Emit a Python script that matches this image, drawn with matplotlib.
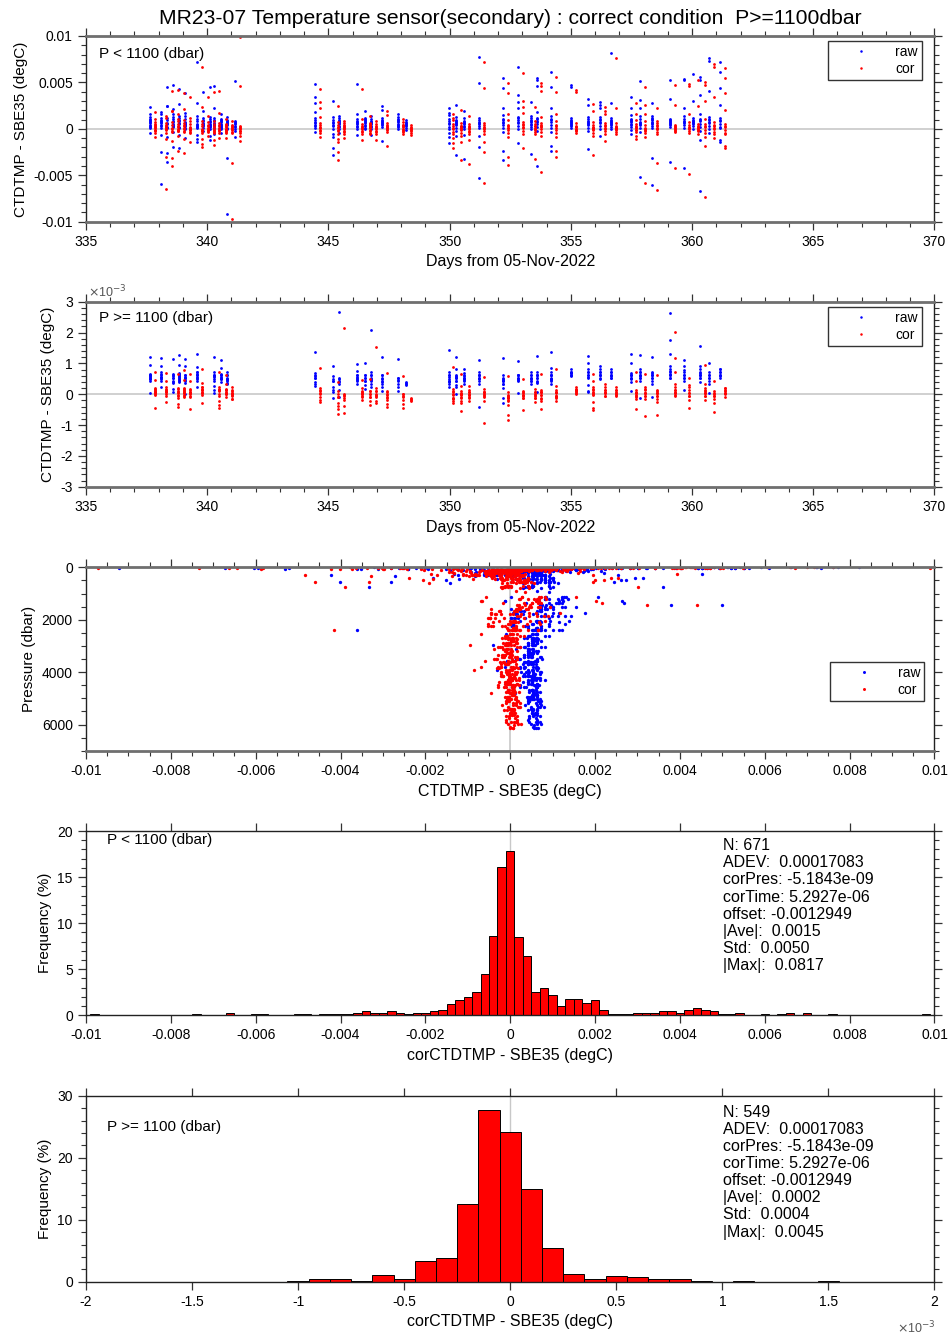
import matplotlib
matplotlib.use("Agg")
import matplotlib.pyplot as plt
import numpy as np
from matplotlib.ticker import MultipleLocator, FuncFormatter

plt.rcParams['font.family'] = ['Liberation Sans', 'DejaVu Sans']

# ---------------- data ----------------
TITLE = "MR23-07 Temperature sensor(secondary) : correct condition  P>=1100dbar"

# correction coefficients shown on the chart
OFFSET = -0.0012949
COR_PRES = -5.1843e-09
COR_TIME = 5.2927e-06

# station times (days from 05-Nov-2022)
STATION_DAY = [337.64, 338.10, 338.36, 338.60, 338.85, 339.10, 339.60, 339.84, 340.10, 340.30,
               340.57, 340.83, 341.15,
               344.46, 345.20, 345.45, 346.20, 346.50, 346.76, 347.20, 347.86, 348.20,
               349.96, 350.26, 350.59, 351.20, 352.20, 352.84, 353.34, 353.59, 354.20, 355.00,
               355.70, 356.20, 356.67, 357.47, 357.84, 358.34, 359.09, 359.67, 360.05, 360.34,
               360.72, 361.14]

# raw CTDTMP - SBE35 (units of 1e-4 degC), P < 1100 dbar, shallowest bottle first
SHALLOW_RAW = [
    [23.1, 12.4, 10.2, 8.3, 7.1, 15.6, 4.2, 3.4, 2.3, -4.1, 0.5, 6.2, 9.3],
    [16.2, -25.3, -59.4, 11.3, 9.1, 7.2, 18.4, 3.3, -6.2, 0.4, 8.1, 4.3, 6.2],
    [45.2, 24.1, -26.3, -35.2, 12.2, 9.4, 6.1, -8.3, 2.2, 1.3, 24.4, 5.2],
    [47.3, 16.1, 13.2, -19.3, 10.4, 8.2, 21.3, 4.1, 2.3, -3.2, 5.3, 3.1, 7.2],
    [43.2, 26.3, -21.1, -6.4, 11.2, 9.3, 6.1, 14.2, 2.4, 1.1, 8.3, 5.2],
    [39.1, 13.3, 10.2, -9.4, 6.3, 4.1, 17.2, 1.3, 0.2, 7.3, 5.1, 3.4],
    [72.1, 28.2, 13.4, 10.1, 8.3, -11.2, 4.3, 2.2, 0.4, -6.1, 5.3, -14.2, 3.1],
    [39.2, 12.1, 9.3, 19.4, 5.2, 3.1, 1.4, -2.3, 6.2, 4.1, 8.3],
    [45.1, 13.2, 10.3, 8.1, -7.2, 4.3, 2.1, 0.3, -12.2, 5.4, 7.1, 3.2],
    [46.2, 11.3, 9.1, 22.4, 5.3, 3.2, 1.1, -5.3, 6.4, 8.2, 4.1],
    [10.3, 8.1, 16.2, 4.4, 2.3, 1.2, 0.1, -4.3, 7.2, 5.1, 3.4, 9.2],
    [-31.2, -92.1, 9.3, 7.1, 5.4, 13.2, 1.3, 0.2, 6.1, 4.3, 8.2],
    [51.3, 104.0, 8.2, 6.1, -8.4, 2.3, 0.2, -2.1, 5.3, 7.4, 3.2],
    [48.1, 34.2, 11.3, 9.4, 7.2, 18.1, 3.2, 1.3, -3.1, 6.2, 27.4, 4.1],
    [30.2, -20.1, 12.3, 9.2, 6.1, 4.3, -9.2, 0.1, -5.2, 7.3, -28.1, 3.2],
    [11.2, 8.4, 6.1, 14.3, 2.2, 0.3, -4.1, 7.2, 5.3, 3.1, 9.4],
    [48.1, 16.3, 10.2, 8.1, 6.4, -6.2, 2.1, 0.3, 7.2, 5.1, 3.3],
    [12.1, 9.3, 7.2, 19.1, 3.4, 1.2, 0.3, 6.1, 8.2, 4.4, 10.3],
    [14.2, 10.1, 8.3, 6.2, -7.1, 2.3, 0.1, 7.4, 5.2, 3.1],
    [25.1, 20.2, 11.3, 8.4, 6.1, 4.2, 2.3, 7.1, -13.2, 5.4, 9.1],
    [13.2, 10.1, 8.4, 16.2, 4.1, 2.3, 0.2, 5.4, 7.1, 3.2, 9.3],
    [9.1, 7.3, 5.2, 3.4, 1.1, -1.2, 6.3, 4.1],
    [22.1, 15.3, -9.2, 10.4, 8.1, 6.2, 17.3, 2.1, 0.3, -4.2, -15.1, 5.3],
    [26.2, -28.1, 12.4, 9.1, 7.3, 5.2, -8.1, 1.4, -2.3, 6.1, 8.2, 4.3],
    [-32.1, 11.3, 8.2, 6.4, 19.1, 2.2, 0.3, -6.1, 7.2, 5.4, 3.1],
    [77.2, 49.1, -19.3, -53.2, 12.1, 9.4, 6.2, 3.1, 0.4, -8.2, 7.3, 5.1],
    [55.1, 44.3, 22.2, -24.1, 15.4, 10.2, 7.1, 4.3, 1.2, -3.1, 6.4, -33.2, 9.1],
    [66.2, 36.1, 22.3, -15.2, 13.1, 9.4, 6.2, 3.3, 0.1, 7.2, 29.4, 11.3],
    [29.1, 14.2, 11.3, 8.4, 5.1, 2.3, 0.2, 7.1, 9.3, -27.1, 4.2],
    [55.2, 52.1, 46.3, 18.2, 12.1, 8.3, 5.2, 2.4, -2.1, 7.3, -40.2, 10.1],
    [61.1, 45.2, 22.3, -24.1, 14.2, 10.3, 7.1, 4.4, 1.2, -3.3, -18.1, 9.2],
    [47.3, 12.1, 9.2, 7.4, 5.1, 3.3, 1.2, 6.1, 45.2, 8.3, 4.1],
    [32.1, 25.3, -22.2, 13.1, 10.4, 7.2, 4.1, 1.3, -2.2, 6.4, 8.1, 5.2],
    [29.3, 22.1, -7.2, 12.3, 9.1, 6.2, 3.4, 0.1, 7.3, 25.3, 10.1],
    [82.1, 28.3, 12.2, 9.1, 6.4, 4.2, 2.1, 0.3, 7.1, 5.4, 8.2],
    [34.2, 22.1, -5.3, 15.2, 11.1, 8.4, 5.2, 2.1, -1.3, 7.2, 9.1, 4.3],
    [51.1, 22.3, -52.2, 14.1, 10.3, 7.2, 4.1, 1.4, -3.2, 6.1, 31.3, 5.2],
    [28.2, 14.1, -60.3, -31.2, 12.1, 9.3, 6.2, 3.1, 0.4, 7.2, 10.1, 5.3],
    [53.1, 32.2, 10.3, -36.1, 8.2, 6.4, 4.1, 2.3, 7.1, 5.2, 9.4],
    [54.2, 52.1, 13.3, 10.2, 7.1, 4.3, 1.2, 6.4, 22.1, -42.2, 8.1],
    [59.1, 30.2, 11.3, 8.1, 6.2, 3.4, 0.2, 7.1, 5.3, 9.2],
    [56.2, 53.1, -67.2, 16.3, 11.1, 8.2, 5.4, 2.1, -2.3, -12.1, 9.2, 36.1],
    [76.1, 73.2, 40.3, -4.1, 13.2, 9.1, 6.3, 3.2, 0.1, 7.4, 10.2],
    [72.2, 61.1, 44.3, -12.2, -14.1, 11.2, 8.1, 5.3, 2.2, 0.4, 26.1, 9.2],
]

# raw CTDTMP - SBE35 (units of 1e-4 degC), P >= 1100 dbar, shallowest bottle first
DEEP_RAW = [
    [12.2, 0.3, 9.4, 5.6, 6.2, 4.8, 5.4, 6.7, 5.1, 4.3, 5.8, 6.4],
    [9.1, 2.4, 11.6, 6.3, 5.7, 4.9, 6.6, 4.2, 5.3, 7.1, 5.5],
    [],
    [11.5, 1.6, 0.8, 5.4, 4.1, 5.9, 3.7, 6.3, 5.2, 6.6, 4.4],
    [9.6, 12.8, 4.2, 6.5, 5.3, 4.6, 5.8, 6.9, 3.9, 5.1, 6.2, 5.5],
    [9.3, 0.2, 11.4, 5.2, 4.3, 6.1, 5.6, 3.8, 4.7, 5.4, 6.3],
    [13.1, 8.7, 2.2, 7.3, 6.4, 5.2, 6.1, 5.5, 4.4, 6.6, 5.1, 7.2],
    [],
    [],
    [12.2, 1.4, 0.5, 6.2, 5.1, 4.3, 2.6, 6.4, 5.7, 7.1, 6.0],
    [8.4, 11.2, 6.3, 5.2, 6.6, 4.9, 4.1, 5.5, 6.2, 5.0],
    [7.2, 3.5, 6.1, 5.4, 5.0, 4.2, 4.6, 3.3, 6.3, 5.1],
    [],
    [13.7, 2.6, 6.4, 5.2, 4.1, 3.3, 6.0, 5.4, 7.0],
    [-1.3, 0.6, 9.2, 4.4, 2.3, 1.4, 5.1, 4.2, 6.0],
    [26.8, 5.3, 4.1, 3.2, 1.3, -0.8, 4.4, 5.0],
    [7.4, 9.8, 6.1, 5.3, 4.2, 3.4, 5.5, 6.2, 4.6, 5.1],
    [10.1, 1.8, 6.3, 5.4, 4.4, 3.1, 5.2, 6.1, 4.3],
    [20.8, 7.3, 6.2, 5.1, 4.3, 3.2, 2.4, 5.3, 6.1, 4.5],
    [12.2, 6.2, 1.2, 5.4, 4.1, 3.3, 2.2, 5.1, 6.3, 4.2],
    [11.4, 0.9, 5.3, 4.6, 3.4, 2.2, 4.3, 5.2],
    [3.8, 3.1, 3.4, 4.0],
    [7.1, 14.3, 6.2, 5.5, 4.3, 4.0, 3.2, 2.4, 5.1, 6.3, 4.2],
    [8.2, 0.2, 12.1, 6.0, 5.2, 4.3, 3.1, 2.4, 5.5, 6.2, 4.4, 5.3],
    [8.3, 7.0, 6.2, -36.0, 5.4, 4.2, 3.3, 5.1, 6.0, 4.5, 5.2],
    [11.2, 3.2, 7.3, 6.1, -4.0, 5.2, 6.3, 5.0, 4.4, 6.1, 5.3],
    [-1.2, 11.6, 5.1, 4.3, 3.2, 2.1, -3.0, 4.2, 5.3, 3.4, 4.5, 6.1],
    [10.7, 6.3, 0.4, 5.2, 4.5, 6.1, 5.3, 4.2, 6.4, 5.0],
    [38.0, 7.2, 6.3, 5.1, 4.4, 3.2, 5.3, 6.1, 4.2, 5.4],
    [12.3, 0.8, 7.1, 6.2, 5.4, 4.3, 3.5, 6.1, 5.2, 4.1, 6.3],
    [8.4, 7.2, 13.8, 6.1, 5.2, 4.3, 3.4, 6.2, 5.1, 4.5, 6.3, 5.0],
    [8.1, 7.3, 6.8, 6.2, 5.9, 7.2, 6.4, 7.0],
    [12.5, 10.2, 0.6, 8.1, 7.3, 6.2, 5.4, 3.1, 1.2, 6.3, 7.1, 5.5],
    [9.1, 8.3, 7.2, 6.1, 5.3, 6.4, 7.2, 5.1, 6.2],
    [50.0, 8.1, 7.2, 6.4, 6.0, 5.3, 7.1, 6.2, 5.4],
    [13.0, 1.2, 10.1, 6.3, 5.4, 5.0, 4.1, 6.2, 5.3, 6.4, 7.0],
    [12.6, 8.2, 7.1, 6.4, 5.3, 4.2, -1.2, 6.1, 5.2, 7.3, 6.0],
    [12.2, 7.1, 6.3, -1.0, 5.4, 4.3, 3.2, 6.1, 5.3, 7.0, 6.2],
    [26.3, 17.6, 13.0, 9.2, 8.1, 7.4, 6.3, 5.2, 6.1, 7.2, 5.4, 6.5],
    [11.2, 1.4, 9.1, 5.3, 4.2, 6.4, 7.1, 5.2, 6.3, 8.0],
    [],
    [15.5, 9.2, 8.1, 7.3, 6.2, 5.4, 4.1, 6.3, 7.0, 5.2, 6.1],
    [0.3, 10.2, 6.1, 5.4, 4.3, 3.2, 6.2, 7.1, 5.3],
    [8.2, 7.3, 6.4, 6.0, 5.2, 7.1, 6.3, 8.1],
]

# bottle pressure levels (dbar)
SHALLOW_LEVELS = [
    [2, 10, 25, 50, 75, 100, 125, 150, 200, 300, 400, 600, 800, 1000],
    [5, 15, 30, 60, 90, 110, 140, 175, 250, 350, 500, 700, 900, 1050],
    [8, 20, 40, 70, 100, 130, 160, 220, 280, 450, 550, 750, 950, 1080],
]
DEEP_LEVELS = [
    [1150, 1590, 2030, 2400, 2900, 3350, 3790, 4230, 4670, 5110, 5550, 5990],
    [1220, 1660, 2100, 2540, 2980, 3420, 3860, 4300, 4740, 5180, 5620, 6060],
    [1290, 1730, 2170, 2610, 3050, 3490, 3930, 4370, 4810, 5250, 5690, 6120],
    [1360, 1800, 2240, 2680, 3120, 3560, 4000, 4440, 4880, 5320, 5760, 5950],
    [1430, 1870, 2310, 2750, 3190, 3630, 4070, 4510, 4950, 5390, 5830, 6030],
    [1500, 1940, 2380, 2820, 3260, 3700, 4140, 4580, 5020, 5460, 5900, 6090],
]

# histogram of corrected differences, P < 1100 dbar (bin centres in degC, %)
HIST1_CENTER = [-0.0098, -0.0074, -0.0066, -0.0060, -0.0058, -0.0050, -0.0048, -0.0044, -0.0042,
                -0.0040, -0.0038, -0.0036, -0.0034, -0.0032, -0.0030, -0.0028, -0.0026, -0.0024,
                -0.0022, -0.0020, -0.0018, -0.0016, -0.0014, -0.0012, -0.0010, -0.0008, -0.0006,
                -0.0004, -0.0002, 0.0000, 0.0002, 0.0004, 0.0006, 0.0008, 0.0010, 0.0012, 0.0014,
                0.0016, 0.0018, 0.0020, 0.0022, 0.0024, 0.0026, 0.0028, 0.0030, 0.0032, 0.0034,
                0.0036, 0.0038, 0.0040, 0.0042, 0.0044, 0.0046, 0.0048, 0.0050, 0.0052, 0.0054,
                0.0060, 0.0064, 0.0066, 0.0070, 0.0076, 0.0098]
HIST1_PCT = [0.15, 0.15, 0.30, 0.15, 0.15, 0.15, 0.15, 0.15, 0.15,
             0.15, 0.15, 0.30, 0.45, 0.30, 0.30, 0.45, 0.30, 0.15,
             0.30, 0.30, 0.45, 0.60, 1.19, 1.64, 1.94, 2.53, 4.47,
             8.64, 16.10, 17.88, 8.49, 6.41, 2.53, 2.98, 2.24, 1.04, 1.79,
             1.79, 1.34, 1.64, 0.60, 0.15, 0.15, 0.15, 0.30, 0.30, 0.30,
             0.45, 0.45, 0.30, 0.60, 0.75, 0.60, 0.45, 0.15, 0.15, 0.30,
             0.15, 0.15, 0.30, 0.30, 0.15, 0.15]

# histogram of corrected differences, P >= 1100 dbar
HIST2_CENTER = [-0.0010, -0.0009, -0.0008, -0.0007, -0.0006, -0.0005, -0.0004, -0.0003, -0.0002,
                -0.0001, 0.0000, 0.0001, 0.0002, 0.0003, 0.0004, 0.0005, 0.0006, 0.0007,
                0.0008, 0.0009, 0.0011, 0.0015]
HIST2_PCT = [0.18, 0.36, 0.36, 0.18, 1.09, 0.36, 3.28, 3.83, 12.57,
             27.69, 24.23, 14.94, 5.46, 1.28, 0.36, 0.91, 0.73, 0.36,
             0.36, 0.18, 0.18, 0.18]

STATS1 = ["N: 671", "ADEV:  0.00017083", "corPres: -5.1843e-09", "corTime: 5.2927e-06",
          "offset: -0.0012949", "|Ave|:  0.0015", "Std:  0.0050", "|Max|:  0.0817"]
STATS2 = ["N: 549", "ADEV:  0.00017083", "corPres: -5.1843e-09", "corTime: 5.2927e-06",
          "offset: -0.0012949", "|Ave|:  0.0002", "Std:  0.0004", "|Max|:  0.0045"]


# ---------------- assemble ----------------
def expand(lists, level_sets):
    d, p, v = [], [], []
    for i, (day, vals) in enumerate(zip(STATION_DAY, lists)):
        levels = level_sets[i % len(level_sets)]
        for j, val in enumerate(vals):
            d.append(day)
            p.append(levels[j])
            v.append(val * 1e-4)
    return np.array(d), np.array(p, dtype=float), np.array(v)


sd, sp, sraw = expand(SHALLOW_RAW, SHALLOW_LEVELS)
dd, dp, draw_ = expand(DEEP_RAW, DEEP_LEVELS)
scor = sraw - (OFFSET + COR_PRES * sp + COR_TIME * sd)
dcor = draw_ - (OFFSET + COR_PRES * dp + COR_TIME * dd)

BLUE = '#0000FF'
RED = '#FF0000'
COR_SHIFT = 0.2   # cor plotted slightly right of raw
MS = 2.0

fig = plt.figure(figsize=(9.51, 13.38), dpi=100)
L, W = 0.0904, 0.8922


def gfmt(scale=1.0):
    def f(v, pos):
        v = round(v * scale, 8)
        if abs(v) < 1e-12:
            return '0'
        return '%g' % v
    return FuncFormatter(f)


def style(ax, thick=True):
    ax.tick_params(which='both', direction='out', top=True, right=True,
                   labelsize=10, color='#333333')
    ax.tick_params(which='major', length=6, width=0.9)
    ax.tick_params(which='minor', length=3.5, width=0.8)
    for k, s in ax.spines.items():
        if thick and k in ('top', 'bottom'):
            s.set_color('#6f6f6f')
            s.set_linewidth(2.0)
        else:
            s.set_color('#222222')
            s.set_linewidth(1.0)


def legend(ax, anchor):
    lg = ax.legend(loc='upper right', bbox_to_anchor=anchor, fontsize=10,
                   fancybox=False, framealpha=1, edgecolor='#333333',
                   handlelength=4.2, handletextpad=0.35, borderpad=0.3,
                   labelspacing=0.2, markerscale=0.9, borderaxespad=0)
    lg.get_frame().set_linewidth(1.0)


# ---- panel 1 ----
ax1 = fig.add_axes([L, 0.8343, W, 0.1388])
ax1.axhline(0, color='#c8c8c8', lw=1.2, zorder=0)
ax1.plot(sd, sraw, ls='none', marker='o', ms=MS, mec='none', color=BLUE, label='raw')
ax1.plot(sd + COR_SHIFT, scor, ls='none', marker='o', ms=MS, mec='none', color=RED, label='cor')
ax1.set_xlim(335, 370)
ax1.set_ylim(-0.01, 0.01)
ax1.xaxis.set_major_locator(MultipleLocator(5))
ax1.xaxis.set_minor_locator(MultipleLocator(1))
ax1.yaxis.set_major_locator(MultipleLocator(0.005))
ax1.yaxis.set_minor_locator(MultipleLocator(0.001))
ax1.yaxis.set_major_formatter(gfmt())
ax1.xaxis.set_major_formatter(gfmt())
style(ax1)
ax1.set_xlabel('Days from 05-Nov-2022', fontsize=11.5)
ax1.set_ylabel('CTDTMP - SBE35 (degC)', fontsize=11)
ax1.text(0.015, 0.903, 'P < 1100 (dbar)', transform=ax1.transAxes, fontsize=11, va='center')
legend(ax1, (0.985, 0.973))

# ---- panel 2 ----
ax2 = fig.add_axes([L, 0.6362, W, 0.1383])
ax2.axhline(0, color='#c8c8c8', lw=1.2, zorder=0)
ax2.plot(dd, draw_, ls='none', marker='o', ms=MS, mec='none', color=BLUE, label='raw')
ax2.plot(dd + COR_SHIFT, dcor, ls='none', marker='o', ms=MS, mec='none', color=RED, label='cor')
ax2.set_xlim(335, 370)
ax2.set_ylim(-0.003, 0.003)
ax2.xaxis.set_major_locator(MultipleLocator(5))
ax2.xaxis.set_minor_locator(MultipleLocator(1))
ax2.yaxis.set_major_locator(MultipleLocator(0.001))
ax2.yaxis.set_minor_locator(MultipleLocator(0.0002))
ax2.yaxis.set_major_formatter(gfmt(1e3))
ax2.xaxis.set_major_formatter(gfmt())
style(ax2)
ax2.set_xlabel('Days from 05-Nov-2022', fontsize=11.5)
ax2.set_ylabel('CTDTMP - SBE35 (degC)', fontsize=11)
ax2.text(0.015, 0.912, 'P >= 1100 (dbar)', transform=ax2.transAxes, fontsize=11, va='center')
ax2.text(0.002, 1.01, r'$\times$10$^{-3}$', transform=ax2.transAxes, fontsize=9,
         color='#555555', ha='left', va='bottom')
legend(ax2, (0.985, 0.973))

# ---- panel 3 ----
ax3 = fig.add_axes([L, 0.4389, W, 0.1371])
ax3.axvline(0, color='#c8c8c8', lw=1.2, zorder=0)
all_p = np.concatenate([sp, dp])
all_raw = np.concatenate([sraw, draw_])
all_cor = np.concatenate([scor, dcor])
ax3.plot(all_raw, all_p, ls='none', marker='o', ms=2.4, mec='none', color=BLUE, label='raw')
ax3.plot(all_cor, all_p, ls='none', marker='o', ms=2.4, mec='none', color=RED, label='cor')
ax3.set_xlim(-0.01, 0.01)
ax3.set_ylim(7000, 0)
ax3.xaxis.set_major_locator(MultipleLocator(0.002))
ax3.xaxis.set_minor_locator(MultipleLocator(0.0005))
ax3.yaxis.set_major_locator(MultipleLocator(2000))
ax3.yaxis.set_minor_locator(MultipleLocator(500))
ax3.xaxis.set_major_formatter(gfmt())
ax3.yaxis.set_major_formatter(gfmt())
style(ax3)
ax3.set_xlabel('CTDTMP - SBE35 (degC)', fontsize=11.5)
ax3.set_ylabel('Pressure (dbar)', fontsize=11)
legend(ax3, (0.988, 0.484))

# ---- panel 4 ----
ax4 = fig.add_axes([L, 0.2412, W, 0.1377])
ax4.axvline(0, color='#c8c8c8', lw=1.0, zorder=0)
ax4.bar(HIST1_CENTER, HIST1_PCT, width=0.0002, color=RED, edgecolor='black', linewidth=0.7, zorder=2)
ax4.set_xlim(-0.01, 0.01)
ax4.set_ylim(0, 20)
ax4.xaxis.set_major_locator(MultipleLocator(0.002))
ax4.yaxis.set_major_locator(MultipleLocator(5))
ax4.yaxis.set_minor_locator(MultipleLocator(1))
ax4.xaxis.set_major_formatter(gfmt())
ax4.yaxis.set_major_formatter(gfmt())
style(ax4, thick=False)
ax4.set_xlabel('corCTDTMP - SBE35 (degC)', fontsize=11.5)
ax4.set_ylabel('Frequency (%)', fontsize=11)
ax4.text(0.025, 0.951, 'P < 1100 (dbar)', transform=ax4.transAxes, fontsize=11, va='center')
ax4.text(0.751, 0.96, '\n'.join(STATS1), transform=ax4.transAxes, fontsize=11.5,
         va='top', ha='left', linespacing=1.17)

# ---- panel 5 ----
ax5 = fig.add_axes([L, 0.0421, W, 0.1388])
ax5.axvline(0, color='#c8c8c8', lw=1.0, zorder=0)
ax5.bar(HIST2_CENTER, HIST2_PCT, width=0.0001, color=RED, edgecolor='black', linewidth=0.7, zorder=2)
ax5.set_xlim(-0.002, 0.002)
ax5.set_ylim(0, 30)
ax5.xaxis.set_major_locator(MultipleLocator(0.0005))
ax5.yaxis.set_major_locator(MultipleLocator(10))
ax5.yaxis.set_minor_locator(MultipleLocator(2))
ax5.xaxis.set_major_formatter(gfmt(1e3))
ax5.yaxis.set_major_formatter(gfmt())
style(ax5, thick=False)
ax5.set_xlabel('corCTDTMP - SBE35 (degC)', fontsize=11.5)
ax5.set_ylabel('Frequency (%)', fontsize=11)
ax5.text(0.025, 0.833, 'P >= 1100 (dbar)', transform=ax5.transAxes, fontsize=11, va='center')
ax5.text(0.751, 0.95, '\n'.join(STATS2), transform=ax5.transAxes, fontsize=11.5,
         va='top', ha='left', linespacing=1.17)
ax5.text(0.956, -0.25, r'$\times$10$^{-3}$', transform=ax5.transAxes, fontsize=9,
         color='#555555', ha='left', va='center')

fig.text(0.537, 1 - 18 / 1338, TITLE, ha='center', va='center', fontsize=15.2)

fig.savefig('out.png', dpi=100)
